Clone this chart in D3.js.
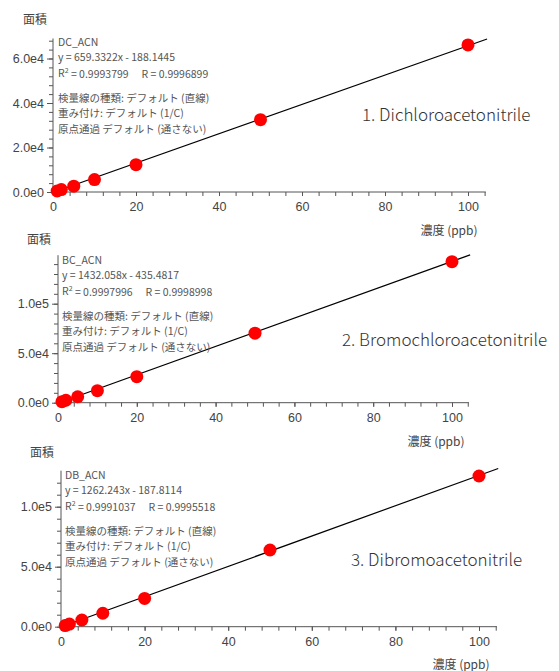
<!DOCTYPE html>
<html>
<head>
<meta charset="utf-8">
<script src="https://cdn.jsdelivr.net/npm/d3@7"></script>
<style>
  body { margin: 0; background: #fff; }
  svg { display: block; font-family: "Noto Sans CJK JP", "Noto Sans", sans-serif; }
  .axis path, .axis line { stroke: #555; }
  .axis text { fill: #444; font-size: 12.5px; }
  .info { fill: #555; font-size: 10.5px; }
  .title { fill: #333; font-size: 17px; font-weight: 300; }
  .lbl { fill: #444; font-size: 12px; }
</style>
</head>
<body>
<div id="chart"></div>
<script>
// concentration levels (ppb), same for every compound
var conc = [1, 2, 5, 10, 20, 50, 100];

// peak areas
var dcAreas = [450, 1100, 2600, 5600, 12300, 32500, 66100];
var bcAreas = [1000, 2500, 6000, 12100, 26300, 70200, 142500];
var dbAreas = [900, 2200, 5600, 11200, 23600, 63900, 125600];

// calibration fits as printed
var names = ["DC_ACN", "BC_ACN", "DB_ACN"];
var slopes = [659.3322, 1432.058, 1262.243];
var intercepts = [-188.1445, -435.4817, -187.8114];
var r2s = ["0.9993799", "0.9997996", "0.9991037"];
var rs = ["0.9996899", "0.9998998", "0.9995518"];
var titles = ["1. Dichloroacetonitrile", "2. Bromochloroacetonitrile", "3. Dibromoacetonitrile"];

var xTicks = [0, 20, 40, 60, 80, 100];
var yTickSets = [[0, 20000, 40000, 60000], [0, 50000, 100000], [0, 50000, 100000]];
var yMinorSteps = [4000, 10000, 10000];
var yTops = [69000, 149000, 130000];
var xMax = 104.3;

var infoLines = ["検量線の種類: デフォルト (直線)", "重み付け: デフォルト (1/C)", "原点通過 デフォルト (通さない)"];

var width = 559, height = 671;
var svg = d3.select('#chart').append('svg')
    .attr('width', width)
    .attr('height', height);

// pixel frame of each panel: x of 0 / 100, y of 0 / 1e5
var frames = [
    {x0: 53, x100: 468, y0: 192, y1e5: 192 - 44.5 * 5, areaLbl: [35, 20], concLbl: [449, 231], info: [58, 42], title: [362, 115]},
    {x0: 58, x100: 452, y0: 402.7, y1e5: 303.7, areaLbl: [39, 240], concLbl: [436, 442], info: [62, 260], title: [342, 340]},
    {x0: 61, x100: 479, y0: 626.7, y1e5: 506.7, areaLbl: [42, 453], concLbl: [461, 665], info: [65, 475], title: [351, 560]}
];

var areaSets = [dcAreas, bcAreas, dbAreas];

frames.forEach(function (f, i) {
    let x = d3.scaleLinear().domain([0, 100]).range([f.x0, f.x100]);
    let y = d3.scaleLinear().domain([0, 100000]).range([f.y0, f.y1e5]);
    let g = svg.append('g');

    // x axis: minor ticks every 4
    let xMinor = d3.range(0, xMax, 4);
    g.append('g')
        .attr('class', 'axis')
        .attr('transform', `translate(0,${f.y0})`)
        .call(d3.axisBottom(x).tickValues(xMinor).tickSize(4).tickFormat(''))
        .call(a => a.select('.domain').attr('d', `M${x(0)},0H${x(xMax)}`));
    g.append('g')
        .attr('class', 'axis')
        .attr('transform', `translate(0,${f.y0})`)
        .call(d3.axisBottom(x).tickValues(xTicks).tickSize(4).tickPadding(6).tickFormat(d3.format('d')))
        .call(a => a.select('.domain').remove());

    // y axis
    let yMinor = d3.range(0, yTops[i], yMinorSteps[i]);
    g.append('g')
        .attr('class', 'axis')
        .attr('transform', `translate(${f.x0},0)`)
        .call(d3.axisLeft(y).tickValues(yMinor).tickSize(4).tickFormat(''))
        .call(a => a.select('.domain').attr('d', `M0,${y(0)}V${y(yTops[i])}`));
    g.append('g')
        .attr('class', 'axis')
        .attr('transform', `translate(${f.x0},0)`)
        .call(d3.axisLeft(y).tickValues(yTickSets[i]).tickSize(6).tickPadding(3)
            .tickFormat(d => d.toExponential(1).replace('+', '')))
        .call(a => a.select('.domain').remove());

    // regression line
    let fit = d => slopes[i] * d + intercepts[i];
    g.append('line')
        .attr('x1', x(0.3)).attr('y1', y(fit(0.3)))
        .attr('x2', x(104.6)).attr('y2', y(fit(104.6)))
        .attr('stroke', '#000')
        .attr('stroke-width', 1.2);

    // points
    g.selectAll('circle')
        .data(conc.map((c, k) => [c, areaSets[i][k]]))
        .enter().append('circle')
        .attr('cx', d => x(d[0]))
        .attr('cy', d => y(d[1]))
        .attr('r', 6.5)
        .attr('fill', '#f00');

    // info text
    let lines = [
        {t: names[i], dy: 0},
        {t: `y = ${slopes[i]}x - ${Math.abs(intercepts[i])}`, dy: 15.5},
        {t: null, dy: 31},
        {t: infoLines[0], dy: 56},
        {t: infoLines[1], dy: 71.5},
        {t: infoLines[2], dy: 87}
    ];
    lines.forEach(l => {
        let tx = g.append('text')
            .attr('class', 'info')
            .attr('x', f.info[0])
            .attr('y', f.info[1] + l.dy)
            .attr('dy', '0.35em');
        if (l.t !== null) {
            tx.text(l.t);
        } else {
            tx.append('tspan').text('R');
            tx.append('tspan').attr('font-size', '7px').attr('dy', '-0.5em').text('2');
            tx.append('tspan').attr('dy', '0.5em').text(` = ${r2s[i]}\u2003 R = ${rs[i]}`);
        }
    });

    g.append('text')
        .attr('class', 'title')
        .attr('x', f.title[0])
        .attr('y', f.title[1])
        .attr('dy', '0.35em')
        .text(titles[i]);

    g.append('text')
        .attr('class', 'lbl')
        .attr('x', f.areaLbl[0])
        .attr('y', f.areaLbl[1])
        .attr('dy', '0.35em')
        .attr('text-anchor', 'middle')
        .text('面積');

    g.append('text')
        .attr('class', 'lbl')
        .attr('x', f.concLbl[0])
        .attr('y', f.concLbl[1])
        .attr('dy', '0.35em')
        .attr('text-anchor', 'middle')
        .text('濃度 (ppb)');
});
</script>
</body>
</html>
